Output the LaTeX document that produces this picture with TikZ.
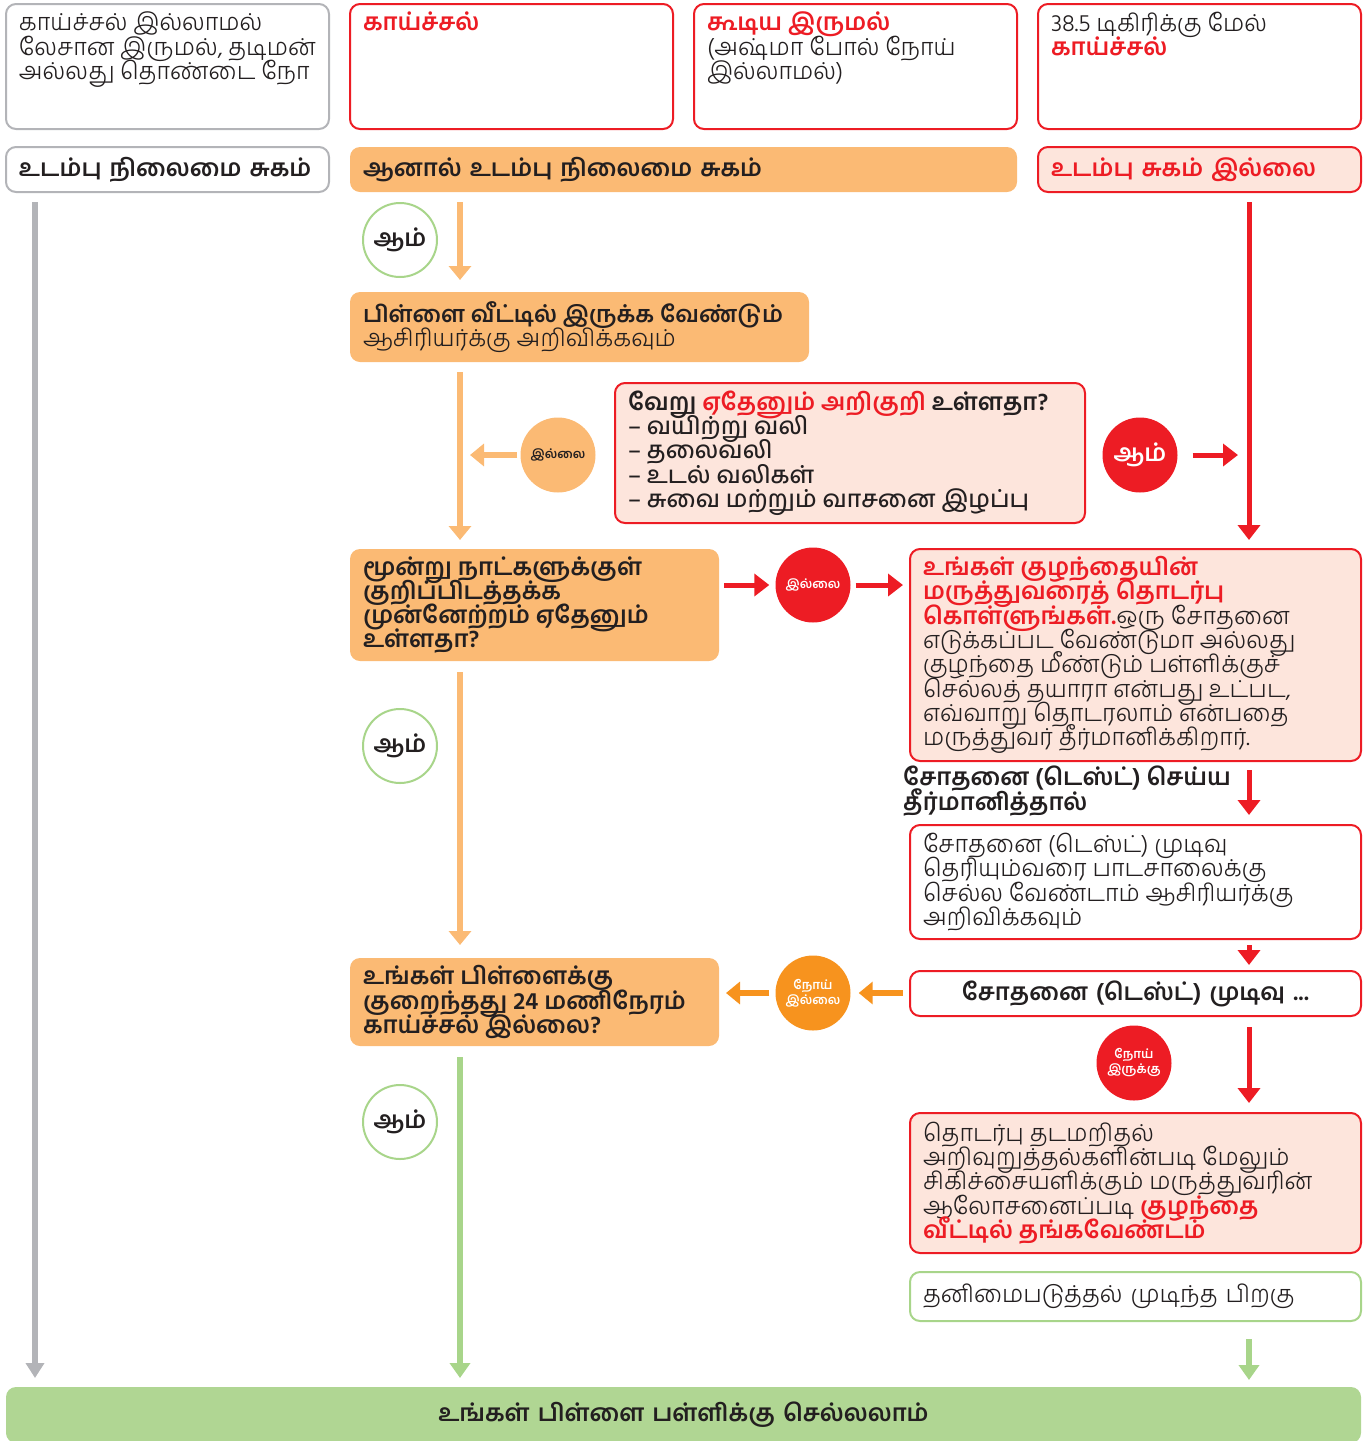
\documentclass[tikz,border=0pt]{standalone}
\usepackage{fontspec}
\setmainfont[Script=Tamil]{Hind Madurai}
\IfFontExistsTF{Hind Madurai Light}{\newfontfamily\lightfont[Script=Tamil]{Hind Madurai Light}}{\newfontfamily\lightfont[Script=Tamil]{Hind Madurai}}
\usetikzlibrary{arrows.meta,calc,positioning}
\definecolor{tred}{HTML}{ED1C24}
\definecolor{tpink}{HTML}{FDE5DC}
\definecolor{torange}{HTML}{FBBA74}
\definecolor{tdorange}{HTML}{F7931E}
\definecolor{tgray}{HTML}{B3B4B8}
\definecolor{tgreen}{HTML}{B0D693}
\definecolor{tgreenl}{HTML}{A8D58A}
\definecolor{ttext}{HTML}{231F20}
\def\rd(#1){\textcolor{tred}{\normalfont\bfseries #1}}
\newcommand\txtbox[4][c]{\parbox[c][#2][#1]{#3}{\raggedright\baselineskip=24.3pt\lineskiplimit=-100pt #4}}

\begin{document}
\begin{tikzpicture}[x=1pt,y=-1pt,
  base/.style={rounded corners=10pt,line width=2pt,inner xsep=13pt,inner ysep=6pt,anchor=north west,align=left,text=ttext,font=\fontsize{24}{24.3}\selectfont},
  gbox/.style={base,draw=tgray,fill=white},
  rbox/.style={base,draw=tred,fill=white},
  pbox/.style={base,draw=tred,fill=tpink},
  obox/.style={base,fill=torange},
  lbox/.style={base,draw=tgreenl,fill=white},
  fbox/.style={base,fill=tgreen},
  yesg/.style={circle,draw=tgreenl,line width=2pt,fill=white,minimum size=74pt,inner sep=0pt,text=ttext,font=\fontsize{24}{24}\selectfont\bfseries},
  dot/.style={circle,minimum size=75pt,inner sep=0pt,align=center,font=\fontsize{12.5}{15}\selectfont\bfseries},
  oarr/.style={torange,line width=6pt,-{Triangle[width=22pt,length=14pt]}},
  rarr/.style={tred,line width=5pt,-{Triangle[width=22pt,length=15pt]}},
  darr/.style={tdorange,line width=6pt,-{Triangle[width=22pt,length=14pt]}},
  garr/.style={tgray,line width=6pt,-{Triangle[width=18pt,length=15pt]}},
  larr/.style={tgreenl,line width=6pt,-{Triangle[width=20pt,length=15pt]}}]

\useasboundingbox (0,0) rectangle (1370,1441);
\coordinate (cG) at (35,0);
\coordinate (cL) at (460,0);
\coordinate (cR) at (1249,0);

% top row
\node (fA) [gbox,minimum width=323pt,minimum height=125pt,inner ysep=8pt] at (5,3) {\txtbox[t]{109pt}{297pt}{\lightfont காய்ச்சல் இல்லாமல்\\ லேசான இருமல், தடிமன்\\ அல்லது தொண்டை நோ}};
\node (fB) [rbox,minimum width=323pt,minimum height=125pt,inner ysep=8pt] at (349,3) {\txtbox[t]{109pt}{297pt}{\rd(காய்ச்சல்)}};
\node (fC) [rbox,minimum width=323pt,minimum height=125pt,inner ysep=8pt] at (693,3) {\txtbox[t]{109pt}{297pt}{\rd(கூடிய இருமல்)\\ \lightfont(அஷ்மா போல் நோய்\\ இல்லாமல்)}};
\node (fD) [rbox,minimum width=323pt,minimum height=125pt,inner ysep=8pt] at (1037,3) {\txtbox[t]{109pt}{297pt}{\lightfont 38.5 டிகிரிக்கு மேல்\\ \rd(காய்ச்சல்)}};

\node (hE) [gbox,text width=297pt,minimum height=45pt,font=\fontsize{24}{24}\selectfont\bfseries] at (5,146) {உடம்பு நிலைமை சுகம்};
\node (hF) [obox,text width=641pt,minimum height=45pt,font=\fontsize{24}{24}\selectfont\bfseries] at (349,146) {ஆனால் உடம்பு நிலைமை சுகம்};
\node (hG) [pbox,text width=297pt,minimum height=45pt] at (1037,146) {\rd(உடம்பு சுகம் இல்லை)};

% middle column
\node (home) [obox,minimum height=70pt] at (349,291) {\txtbox{58pt}{433pt}{{\fontsize{23}{24.3}\selectfont\bfseries பிள்ளை வீட்டில் இருக்க வேண்டும்}\\ \lightfont ஆசிரியர்க்கு அறிவிக்கவும்}};
\node (sym) [pbox,minimum height=140pt] at (614,382) {\txtbox{128pt}{444pt}{\bfseries வேறு \rd(ஏதேனும் அறிகுறி) உள்ளதா?\\ \lightfont – வயிற்று வலி\\ – தலைவலி\\ – உடல் வலிகள்\\ – சுவை மற்றும் வாசனை இழப்பு}};
\node (three) [obox,minimum height=112pt] at (349,548) {\txtbox{100pt}{343pt}{\bfseries மூன்று நாட்களுக்குள்\\ குறிப்பிடத்தக்க\\ முன்னேற்றம் ஏதேனும்\\ உள்ளதா?}};
\node (doc) [pbox,minimum height=212pt] at (909,548) {\txtbox{200pt}{425pt}{\rd(உங்கள் குழந்தையின்)\\ \rd(மருத்துவரைத் தொடர்பு)\\ \rd(கொள்ளுங்கள்.)\lightfont ஒரு சோதனை\\ எடுக்கப்பட வேண்டுமா அல்லது\\ குழந்தை மீண்டும் பள்ளிக்குச்\\ செல்லத் தயாரா என்பது உட்பட,\\ எவ்வாறு தொடரலாம் என்பதை\\ மருத்துவர் தீர்மானிக்கிறார்.}};
\node (ifT) [anchor=north west,align=left,text=ttext,inner sep=0pt,font=\fontsize{24}{24.3}\selectfont\bfseries] at (903,766) {\txtbox{50pt}{340pt}{சோதனை (டெஸ்ட்) செய்ய\\ தீர்மானித்தால்}};
\node (wait) [rbox,minimum height=114pt] at (909,824) {\txtbox{102pt}{425pt}{\lightfont சோதனை (டெஸ்ட்) முடிவு\\ தெரியும்வரை பாடசாலைக்கு\\ செல்ல வேண்டாம் ஆசிரியர்க்கு\\ அறிவிக்கவும்}};
\node (res) [rbox,text width=425pt,minimum height=45pt,align=center,font=\fontsize{24}{24}\selectfont\bfseries] at (909,970) {சோதனை (டெஸ்ட்) முடிவு ...};
\node (nofv) [obox,minimum height=88pt] at (349,957) {\txtbox{76pt}{343pt}{\bfseries உங்கள் பிள்ளைக்கு\\ குறைந்தது 24 மணிநேரம்\\ காய்ச்சல் இல்லை?}};
\node (iso) [pbox,minimum height=140pt] at (909,1112) {\txtbox{128pt}{425pt}{\lightfont தொடர்பு தடமறிதல்\\ அறிவுறுத்தல்களின்படி மேலும்\\ சிகிச்சையளிக்கும் மருத்துவரின்\\ ஆலோசனைப்படி \rd(குழந்தை)\\ \rd(வீட்டில் தங்கவேண்டம்)}};
\node (after) [lbox,text width=425pt,minimum height=49pt] at (909,1271) {\lightfont தனிமைபடுத்தல் முடிந்த பிறகு};
\node (go) [fbox,text width=1329pt,minimum height=56pt,align=center,font=\fontsize{24}{24}\selectfont\bfseries] at (5,1386) {உங்கள் பிள்ளை பள்ளிக்கு செல்லலாம்};

% answer circles
\node (y1) [yesg] at (400,240) {ஆம்};
\node (y2) [yesg] at (400,746) {ஆம்};
\node (y3) [yesg] at (400,1122) {ஆம்};
\node (n1) [dot,fill=torange,text=ttext] at (558,455) {இல்லை};
\node (yR) [dot,fill=tred,text=white,font=\fontsize{24}{24}\selectfont\bfseries] at (1140,455) {ஆம்};
\node (n2) [dot,fill=tred,text=white] at (813,585) {இல்லை};
\node (neg) [dot,fill=tdorange,text=white] at (813,993) {நோய்\\இல்லை};
\node (pos) [dot,fill=tred,text=white] at (1134,1063) {நோய்\\இருக்கு};

\draw[garr,shorten <=9pt,shorten >=8pt] (hE.south -| cG)--(go.north -| cG);
\draw[oarr,shorten <=9pt,shorten >=11pt] (hF.south -| cL)--(home.north -| cL);
\draw[oarr,shorten <=9pt,shorten >=8pt] (home.south -| cL)--(three.north -| cL);
\draw[oarr,shorten <=3pt,shorten >=10pt] (n1.west)--(n1.west -| cL);
\draw[oarr,shorten <=10pt,shorten >=12pt] (three.south -| cL)--(nofv.north -| cL);
\draw[larr,shorten <=10pt,shorten >=8pt] (nofv.south -| cL)--(go.north -| cL);
\draw[rarr,shorten <=9pt,shorten >=8pt] (hG.south -| cR)--(doc.north -| cR);
\draw[rarr,shorten <=15pt,shorten >=11pt] (yR.east)--(yR.east -| cR);
\draw[rarr,shorten <=4pt,shorten >=6pt] (three.east |- n2)--(n2.west);
\draw[rarr,shorten <=5pt,shorten >=6pt] (n2.east)--(doc.west |- n2);
\draw[rarr,shorten <=8pt,shorten >=9pt] (doc.south -| cR)--(wait.north -| cR);
\draw[rarr,shorten <=5pt,shorten >=5pt] (wait.south -| cR)--(res.north -| cR);
\draw[darr,shorten <=6pt,shorten >=8pt] (res.west |- neg)--(neg.east);
\draw[darr,shorten <=6pt,shorten >=6pt] (neg.west)--(nofv.east |- neg);
\draw[rarr,shorten <=10pt,shorten >=9pt] (res.south -| cR)--(iso.north -| cR);
\draw[larr,shorten <=17pt,shorten >=6pt] (after.south -| cR)--(go.north -| cR);
\end{tikzpicture}
\end{document}
